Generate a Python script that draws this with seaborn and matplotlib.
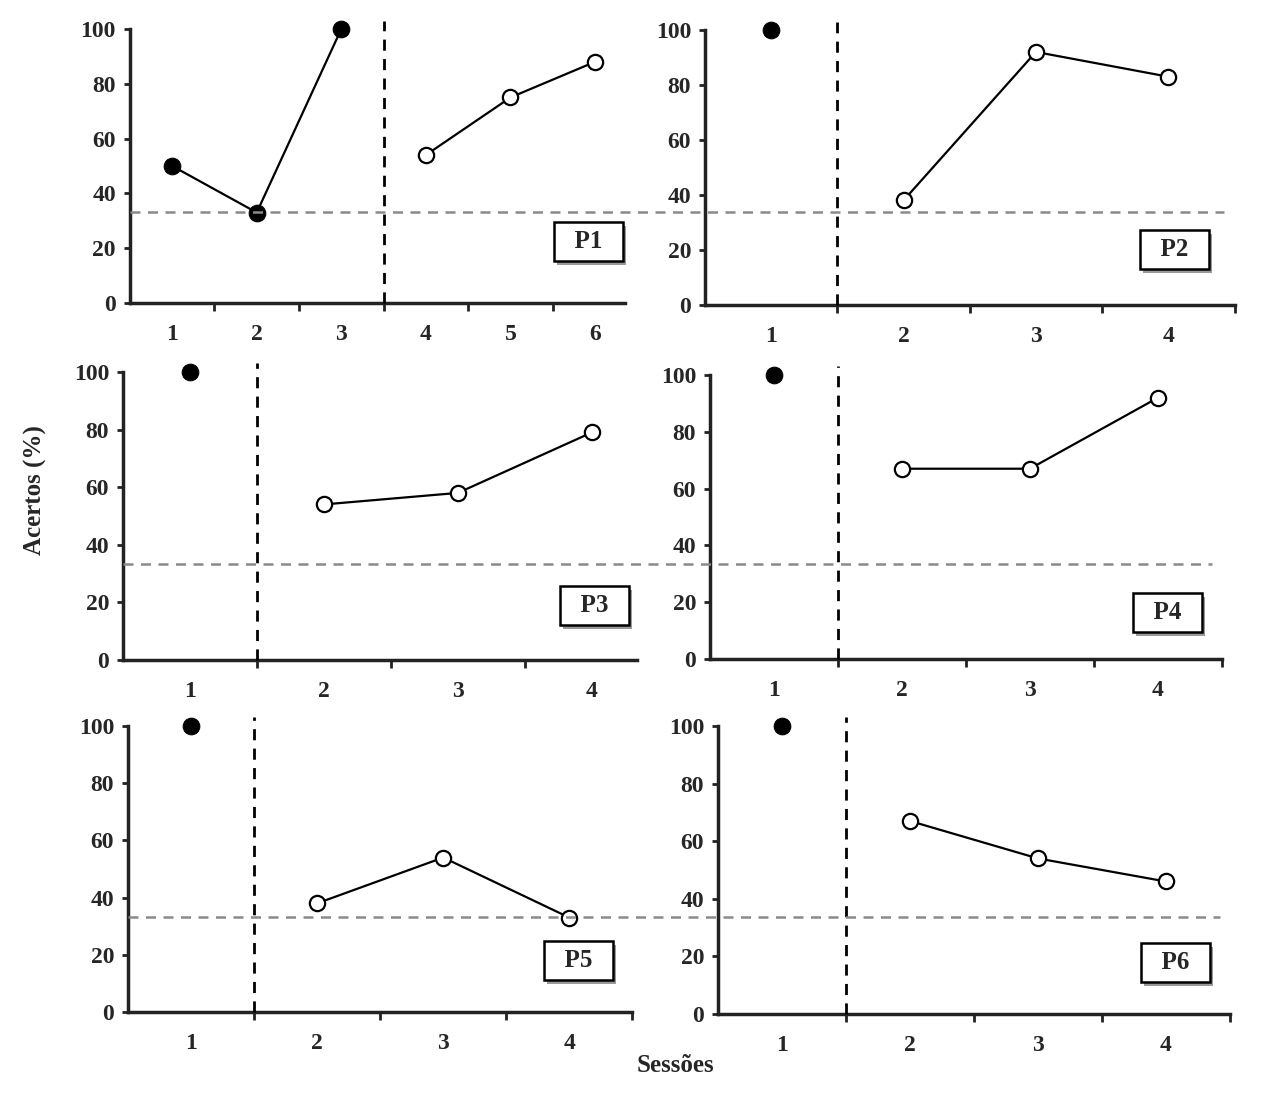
#! /usr/bin/python3
"""
"""
import pandas as pd
import matplotlib
matplotlib.use("Agg")
import matplotlib.pyplot as plt
import matplotlib.transforms as mtransforms
from matplotlib.lines import Line2D
from matplotlib.patches import Rectangle
from matplotlib.ticker import FixedLocator
import seaborn as sns

# data
participants = ["P1", "P2", "P3", "P4", "P5", "P6"]
baseline_sessions = [[1, 2, 3], [1], [1], [1], [1], [1]]
baseline_values = [[50, 33, 100], [100], [100], [100], [100], [100]]
test_sessions = [[4, 5, 6], [2, 3, 4], [2, 3, 4], [2, 3, 4], [2, 3, 4], [2, 3, 4]]
test_values = [[54, 75, 88], [38, 92, 83], [54, 58, 79], [67, 67, 92], [38, 54, 33], [67, 54, 46]]
chance_level = 33.3
y_ticks = [0, 20, 40, 60, 80, 100]

# layout (figure fractions) and per-panel settings
rects = [
    [0.103, 0.7228, 0.393, 0.2507],
    [0.559, 0.7210, 0.420, 0.2516],
    [0.0975, 0.3962, 0.408, 0.2635],
    [0.563, 0.3971, 0.406, 0.2598],
    [0.1015, 0.0741, 0.400, 0.2617],
    [0.5694, 0.0723, 0.406, 0.2635],
]
xlim_right = [6.36, 4.5, 4.34, 4.5, 4.5, 4.5]
box_pos = [(0.925, 0.223), (0.887, 0.20), (0.917, 0.19),
           (0.893, 0.165), (0.893, 0.18), (0.893, 0.18)]

sns.set_style("ticks")
plt.rcParams["font.family"] = ["Liberation Serif", "DejaVu Serif"]
plt.rcParams["font.weight"] = "bold"

fig = plt.figure(figsize=(12.61, 10.93), dpi=100)
axes = [fig.add_axes(r) for r in rects]
label_texts = []

for i, ax in enumerate(axes):
    n_sessions = max(test_sessions[i])
    base = pd.DataFrame({"sessao": baseline_sessions[i], "acertos": baseline_values[i]})
    test = pd.DataFrame({"sessao": test_sessions[i], "acertos": test_values[i]})

    sns.lineplot(data=base, x="sessao", y="acertos", ax=ax, color="black",
                 lw=1.6, marker="o", markersize=12, markerfacecolor="black",
                 markeredgecolor="black", zorder=5, clip_on=False)
    sns.lineplot(data=test, x="sessao", y="acertos", ax=ax, color="black",
                 lw=1.6, marker="o", markersize=11, markerfacecolor="white",
                 markeredgecolor="black", markeredgewidth=1.6, zorder=5, clip_on=False)

    # phase change line
    phase_x = max(baseline_sessions[i]) + 0.5
    ax.axvline(phase_x, ymin=0, ymax=1.03, color="black", lw=2,
               ls=(0, (4, 3)), clip_on=False, zorder=3)

    ax.set_xlim(0.5, xlim_right[i])
    ax.set_ylim(0, 100)
    ax.set_xlabel("")
    ax.set_ylabel("")

    ax.xaxis.set_major_locator(FixedLocator(list(range(1, n_sessions + 1))))
    ax.xaxis.set_minor_locator(FixedLocator([k + 0.5 for k in range(1, n_sessions)] + [n_sessions + 0.5]))
    ax.set_yticks(y_ticks)
    ax.tick_params(axis="x", which="major", length=0, pad=15, labelsize=17)
    ax.tick_params(axis="x", which="minor", length=6, width=2, direction="out", color="#222222")
    ax.tick_params(axis="y", length=4, width=2, pad=6, labelsize=17, color="#222222")
    for lab in ax.get_xticklabels() + ax.get_yticklabels():
        lab.set_fontweight("bold")

    sns.despine(ax=ax)
    for side in ["left", "bottom"]:
        ax.spines[side].set_linewidth(2.5)
        ax.spines[side].set_color("#222222")

    # participant label box
    bx, by = box_pos[i]
    t = ax.text(bx, by, "  " + participants[i] + "  ", transform=ax.transAxes,
                ha="center", va="center", fontsize=18, fontweight="bold",
                bbox=dict(boxstyle="square,pad=0.32", fc="white", ec="black", lw=1.8),
                zorder=8)
    label_texts.append(t)

# chance line running across each row of panels
for left, right in [(axes[0], axes[1]), (axes[2], axes[3]), (axes[4], axes[5])]:
    trans = mtransforms.blended_transform_factory(fig.transFigure, left.transData)
    x0 = left.get_position().x0
    x1 = right.get_position().x1 - 0.008
    fig.add_artist(Line2D([x0, x1], [chance_level, chance_level], transform=trans,
                          color="#8a8a8a", lw=1.8, ls=(0, (4, 3)), zorder=2))

fig.text(35 / 1261, 1 - 490 / 1093, "Acertos (%)", rotation=90, ha="center",
         va="center", fontsize=18, fontweight="bold")
fig.text(675 / 1261, 1 - 1066 / 1093, "Sessões", ha="center", va="center",
         fontsize=18, fontweight="bold")

# grey drop shadow behind each label box
fig.canvas.draw()
for ax, t in zip(axes, label_texts):
    bb = t.get_bbox_patch().get_window_extent()
    inv = ax.transAxes.inverted()
    (ax0, ay0), (ax1, ay1) = inv.transform([(bb.x0 + 3, bb.y0 - 4), (bb.x1 + 3, bb.y1 - 4)])
    ax.add_patch(Rectangle((ax0, ay0), ax1 - ax0, ay1 - ay0, transform=ax.transAxes,
                           fc="#9a9a9a", ec="none", zorder=6, clip_on=False))

fig.savefig("out.png", dpi=100)
